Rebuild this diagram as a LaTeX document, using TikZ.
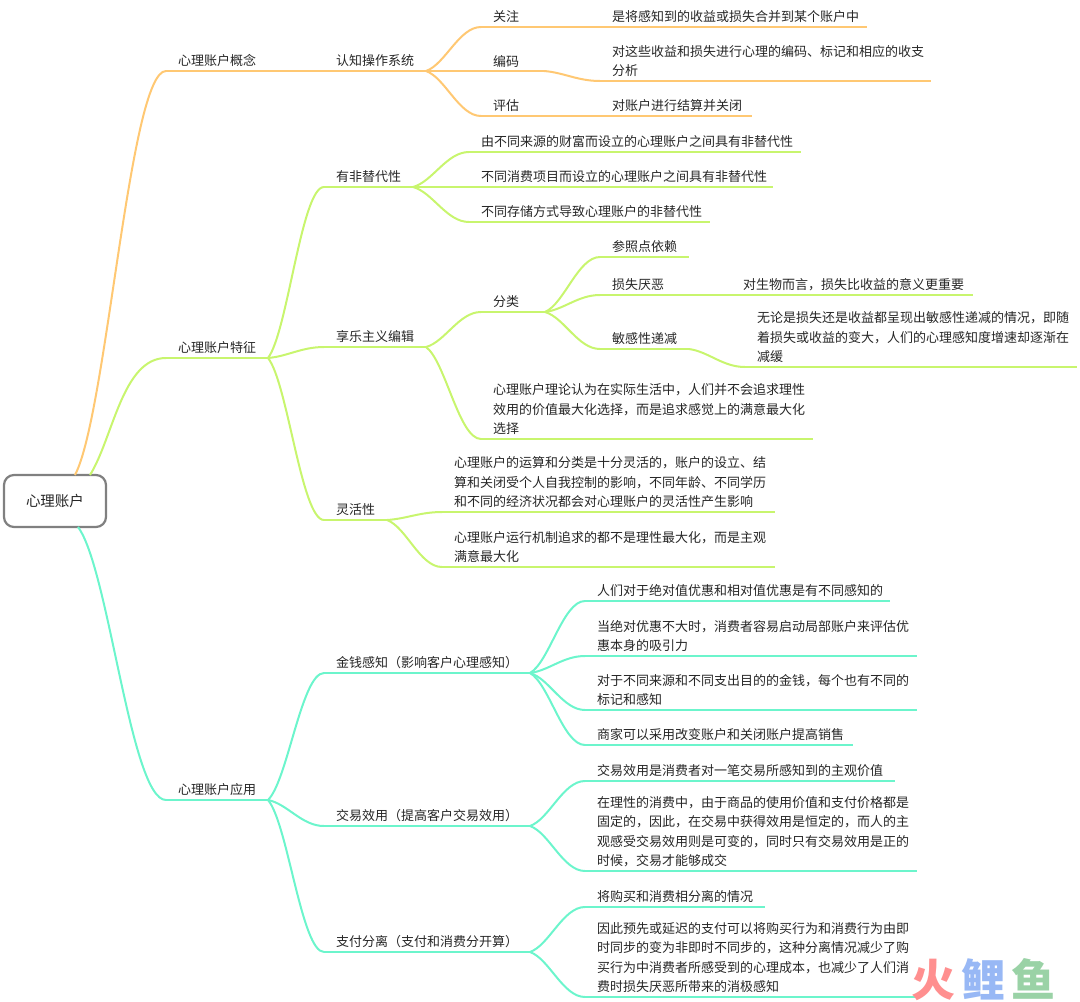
\documentclass[tikz,border=0pt]{standalone}
\usepackage{fontspec}
\usepackage{xcolor}
\setmainfont{Noto Sans CJK SC}
\usetikzlibrary{positioning,calc}
\definecolor{conceptcolor}{HTML}{FFC873}
\definecolor{featurecolor}{HTML}{C8F56E}
\definecolor{applycolor}{HTML}{6CF5CC}
\definecolor{markred}{HTML}{FF8F8F}
\definecolor{markblue}{HTML}{98B8F5}
\definecolor{markgreen}{HTML}{9AD2A6}
\hfuzz=30pt
\tikzset{
    topic/.style={anchor=south west, outer sep=0pt, inner xsep=12pt, inner ysep=4pt, text width=#1pt-24pt, align=left, text=black!85, font=\fontsize{13}{19.5}\selectfont},
    branch/.style={line width=2pt, to path={let \p1=(\tikztostart), \p2=(\tikztotarget) in .. controls ({\x1+0.35*(\x2-\x1)},{\y1+0.15*(\y2-\y1)}) and ({\x1+0.6*(\x2-\x1)},\y2) .. (\tikztotarget)}},
    conceptlink/.style={draw=conceptcolor, branch},
    featurelink/.style={draw=featurecolor, branch},
    applylink/.style={draw=applycolor, branch}
}
\begin{document}
\begin{tikzpicture}[x=1pt, y=-1pt]
    \useasboundingbox (0,0) rectangle (1080,1002);
    \node [rectangle, draw=black!50, line width=2.2pt, rounded corners=10pt, fill=white, text=black!85, outer sep=0pt, minimum width=102pt, minimum height=52pt, font=\fontsize{14.5}{16}\selectfont] (root) at (55,501) {心理账户};
    \coordinate (rootconcept) at ([xshift=20pt]root.north);
    \coordinate (rootfeature) at ([xshift=35pt]root.north);
    \coordinate (rootapply) at ([xshift=23pt]root.south);

    % first level
    \node [above right=404pt and 60pt of root.north east, topic=102] (concept) {心理账户概念};
    \node [above right=117pt and 60pt of root.north east, topic=102] (feature) {心理账户特征};
    \node [below right=273pt and 60pt of root.south east, topic=102] (apply) {心理账户应用};

    % concept branch
    \node [right=56pt of concept.south east, topic=102] (system) {认知操作系统};
    \node [above right=44pt and 55pt of system.south east, topic=63] (attend) {关注};
    \node [right=55pt of system.south east, topic=63] (encode) {编码};
    \node [below right=45pt and 55pt of system.south east, topic=63] (assess) {评估};
    \node [right=56pt of attend.south east, topic=267] (attendnote) {是将感知到的收益或损失合并到某个账户中};
    \node [below right=10pt and 56pt of encode.south east, topic=331] (encodenote) {对这些收益和损失进行心理的编码、标记和相应的收支\\分析};
    \node [right=56pt of assess.south east, topic=152] (assessnote) {对账户进行结算并关闭};

    % feature branch
    \node [above right=171pt and 56pt of feature.south east, topic=89] (nonsub) {有非替代性};
    \node [above right=35pt and 56pt of nonsub.south east, topic=332] (nonsuba) {由不同来源的财富而设立的心理账户之间具有非替代性};
    \node [right=56pt of nonsub.south east, topic=304] (nonsubb) {不同消费项目而设立的心理账户之间具有非替代性};
    \node [below right=35pt and 56pt of nonsub.south east, topic=241] (nonsubc) {不同存储方式导致心理账户的非替代性};
    \node [above right=11pt and 56pt of feature.south east, topic=102] (hedonic) {享乐主义编辑};
    \node [above right=35pt and 55pt of hedonic.south east, topic=64] (classify) {分类};
    \node [above right=55pt and 55pt of classify.south east, topic=89] (refpoint) {参照点依赖};
    \node [above right=17pt and 55pt of classify.south east, topic=76] (lossav) {损失厌恶};
    \node [right=55pt of lossav.south east, topic=242] (lossnote) {对生物而言，损失比收益的意义更重要};
    \node [below right=37pt and 55pt of classify.south east, topic=89] (sensdec) {敏感性递减};
    \node [below right=18pt and 56pt of sensdec.south east, topic=332] (sensnote) {无论是损失还是收益都呈现出敏感性递减的情况，即随\\着损失或收益的变大，人们的心理感知度增速却逐渐在\\减缓};
    \node [below right=92pt and 55pt of hedonic.south east, topic=332] (hedonote) {心理账户理论认为在实际生活中，人们并不会追求理性\\效用的价值最大化选择，而是追求感觉上的满意最大化\\选择};
    \node [below right=162pt and 56pt of feature.south east, topic=63] (flexible) {灵活性};
    \node [above right=8pt and 55pt of flexible.south east, topic=333] (flexa) {心理账户的运算和分类是十分灵活的，账户的设立、结\\算和关闭受个人自我控制的影响，不同年龄、不同学历\\和不同的经济状况都会对心理账户的灵活性产生影响};
    \node [below right=47pt and 55pt of flexible.south east, topic=333] (flexb) {心理账户运行机制追求的都不是理性最大化，而是主观\\满意最大化};

    % apply branch
    \node [above right=127pt and 56pt of apply.south east, topic=206] (money) {金钱感知（影响客户心理感知）};
    \node [above right=72pt and 55pt of money.south east, topic=305] (moneya) {人们对于绝对值优惠和相对值优惠是有不同感知的};
    \node [above right=17pt and 55pt of money.south east, topic=332] (moneyb) {当绝对优惠不大时，消费者容易启动局部账户来评估优\\惠本身的吸引力};
    \node [below right=37pt and 55pt of money.south east, topic=332] (moneyc) {对于不同来源和不同支出目的的金钱，每个也有不同的\\标记和感知};
    \node [below right=72pt and 55pt of money.south east, topic=268] (moneyd) {商家可以采用改变账户和关闭账户提高销售};
    \node [below right=26pt and 56pt of apply.south east, topic=206] (utility) {交易效用（提高客户交易效用）};
    \node [above right=45pt and 55pt of utility.south east, topic=310] (utila) {交易效用是消费者对一笔交易所感知到的主观价值};
    \node [below right=45pt and 55pt of utility.south east, topic=332] (utilb) {在理性的消费中，由于商品的使用价值和支付价格都是\\固定的，因此，在交易中获得效用是恒定的，而人的主\\观感受交易效用则是可变的，同时只有交易效用是正的\\时候，交易才能够成交};
    \node [below right=152pt and 56pt of apply.south east, topic=206] (separate) {支付分离（支付和消费分开算）};
    \node [above right=45pt and 55pt of separate.south east, topic=180] (sepa) {将购买和消费相分离的情况};
    \node [below right=45pt and 55pt of separate.south east, topic=332] (sepb) {因此预先或延迟的支付可以将购买行为和消费行为由即\\时同步的变为非即时不同步的，这种分离情况减少了购\\买行为中消费者所感受到的心理成本，也减少了人们消\\费时损失厌恶所带来的消极感知};

    % underlines
    \foreach \n in {concept,system,attend,encode,assess,attendnote,encodenote,assessnote}
        \draw [conceptlink] (\n.south west) -- (\n.south east);
    \foreach \n in {feature,nonsub,nonsuba,nonsubb,nonsubc,hedonic,classify,refpoint,lossav,lossnote,sensdec,sensnote,hedonote,flexible,flexa,flexb}
        \draw [featurelink] (\n.south west) -- (\n.south east);
    \foreach \n in {apply,money,moneya,moneyb,moneyc,moneyd,utility,utila,utilb,separate,sepa,sepb}
        \draw [applylink] (\n.south west) -- (\n.south east);

    % connectors
    \draw [conceptlink] (rootconcept) to (concept.south west);
    \draw [featurelink, out=58, in=180, looseness=0.8] (rootfeature) to (feature.south west);
    \draw [applylink] (rootapply) to (apply.south west);

    \draw [conceptlink] (concept.south east) to (system.south west);
    \draw [conceptlink] (system.south east) to (attend.south west);
    \draw [conceptlink] (system.south east) to (encode.south west);
    \draw [conceptlink] (system.south east) to (assess.south west);
    \draw [conceptlink] (attend.south east) to (attendnote.south west);
    \draw [conceptlink] (encode.south east) to (encodenote.south west);
    \draw [conceptlink] (assess.south east) to (assessnote.south west);

    \draw [featurelink] (feature.south east) to (nonsub.south west);
    \draw [featurelink] (feature.south east) to (hedonic.south west);
    \draw [featurelink] (feature.south east) to (flexible.south west);
    \draw [featurelink] (nonsub.south east) to (nonsuba.south west);
    \draw [featurelink] (nonsub.south east) to (nonsubb.south west);
    \draw [featurelink] (nonsub.south east) to (nonsubc.south west);
    \draw [featurelink] (hedonic.south east) to (classify.south west);
    \draw [featurelink] (hedonic.south east) to (hedonote.south west);
    \draw [featurelink] (classify.south east) to (refpoint.south west);
    \draw [featurelink] (classify.south east) to (lossav.south west);
    \draw [featurelink] (classify.south east) to (sensdec.south west);
    \draw [featurelink] (lossav.south east) to (lossnote.south west);
    \draw [featurelink] (sensdec.south east) to (sensnote.south west);
    \draw [featurelink] (flexible.south east) to (flexa.south west);
    \draw [featurelink] (flexible.south east) to (flexb.south west);

    \draw [applylink] (apply.south east) to (money.south west);
    \draw [applylink] (apply.south east) to (utility.south west);
    \draw [applylink] (apply.south east) to (separate.south west);
    \draw [applylink] (money.south east) to (moneya.south west);
    \draw [applylink] (money.south east) to (moneyb.south west);
    \draw [applylink] (money.south east) to (moneyc.south west);
    \draw [applylink] (money.south east) to (moneyd.south west);
    \draw [applylink] (utility.south east) to (utila.south west);
    \draw [applylink] (utility.south east) to (utilb.south west);
    \draw [applylink] (separate.south east) to (sepa.south west);
    \draw [applylink] (separate.south east) to (sepb.south west);

    % mark
    \node [anchor=south west, inner sep=0pt, font=\fontsize{44}{44}\selectfont\bfseries] (mark) at (911,1001) {\textcolor{markred}{火}\hspace{6pt}\textcolor{markblue}{鲤}\hspace{6pt}\textcolor{markgreen}{鱼}};
\end{tikzpicture}
\end{document}
